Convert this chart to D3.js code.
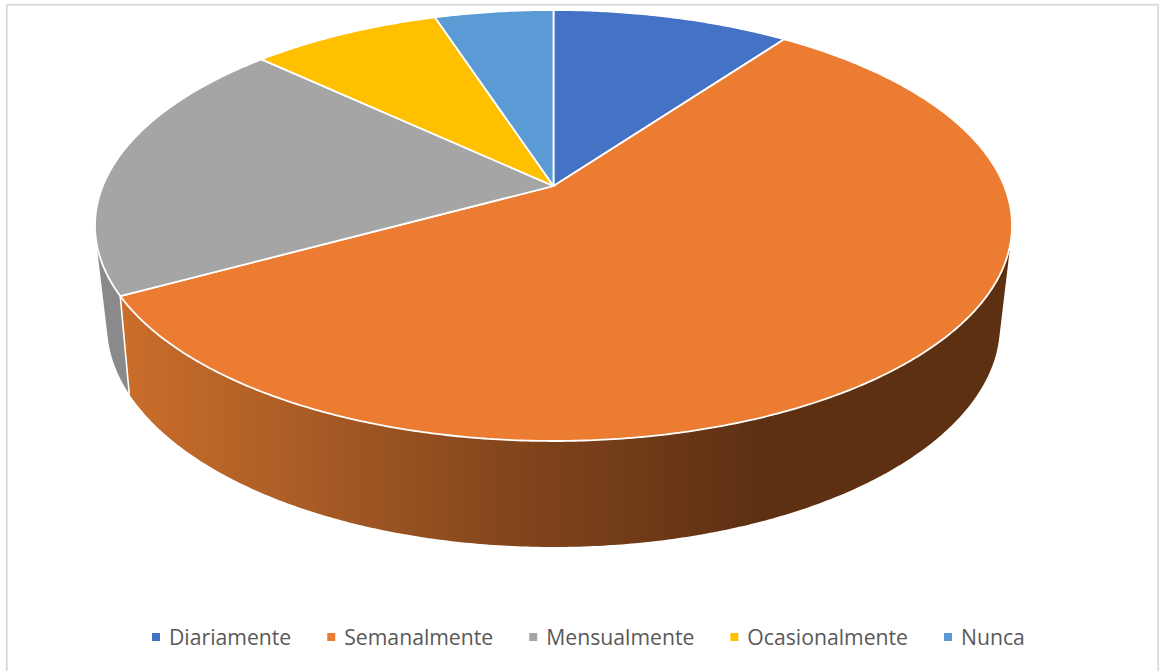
<!DOCTYPE html>
<html><head><meta charset="utf-8">
<script src="https://cdn.jsdelivr.net/npm/d3@7/dist/d3.min.js"></script>
<style>html,body{margin:0;padding:0;background:#fff}svg{display:block}</style>
</head><body><svg id="c" width="1159" height="671"></svg>
<script>
const categories = ["Diariamente","Semanalmente","Mensualmente","Ocasionalmente","Nunca"];
const values = [10,57,20,8,5];
const colors = ["#4472C4","#EB7C31","#A5A5A5","#FFC000","#5B9BD5"];
const wallGray = "#8A8A8A";

const svg = d3.select("#c");
svg.append("rect").attr("x",6.8).attr("y",4.8).attr("width",1151.4).attr("height",680)
  .attr("fill","#fff").attr("stroke","#d9d9d9").attr("stroke-width",1.8);

// perspective discs: unit circle -> ellipse
function disc(x0,x1,y0,y1,k){
  const sx=d3.scaleLinear([-1,1],[x0,x1]), sy=d3.scaleLinear([-1,1],[y0,y1]), q=Math.sqrt(1-k*k);
  const f=a=>{const x=Math.sin(a),y=-Math.cos(a),w=1+k*y;return [sx(q*x/w),sy((y+k)/w)];};
  f.apex=[sx(0),sy(k)];
  return f;
}
const top_ = disc(95,1012,10,441,-0.1833);
const low  = disc(107,1000,103,547,-0.2);

const arcs = d3.pie().sort(null).value(d=>d)(values);
const line = d3.line();
const samples=(a,b)=>{const n=Math.ceil((b-a)/(Math.PI/360));return d3.range(n+1).map(i=>a+(b-a)*i/n);};

const defs=svg.append("defs");
const grad=defs.append("linearGradient").attr("id","wallO").attr("gradientUnits","userSpaceOnUse")
  .attr("x1",120).attr("x2",760).attr("y1",0).attr("y2",0);
[[0,"#CB6E2B"],[0.3,"#A85B25"],[0.6,"#84461C"],[0.85,"#6C3817"],[1,"#5D3012"]].forEach(s=>grad.append("stop").attr("offset",s[0]).attr("stop-color",s[1]));

// walls: gray first then orange; every strip gets the same winding
function wallPath(a,b){
  const t=samples(a,b);let d="";
  for(let i=0;i<t.length-1;i++){
    const q=[top_(t[i]),top_(t[i+1]),low(t[i+1]),low(t[i])];
    if(d3.polygonArea(q)<0) q.reverse();
    d+=line(q)+"Z";
  }
  return d;
}
const g=svg.append("g");
g.append("path").attr("d",wallPath(arcs[2].startAngle,arcs[2].endAngle)).attr("fill",wallGray);
g.append("path").attr("d",wallPath(arcs[1].startAngle,arcs[1].endAngle)).attr("fill","url(#wallO)");
g.append("path").attr("d",line([top_(arcs[1].endAngle),low(arcs[1].endAngle)]))
  .attr("stroke","#fff").attr("stroke-width",1.6).attr("fill","none");

// top slices
svg.append("g").selectAll("path").data(arcs).join("path")
  .attr("d",d=>line([top_.apex,...samples(d.startAngle,d.endAngle).map(top_)])+"Z")
  .attr("fill",(d,i)=>colors[i]).attr("stroke","#fff").attr("stroke-width",1.8).attr("stroke-linejoin","round");

// legend
const leg=svg.append("g").attr("font-family","'Open Sans'").attr("font-size",21.2).attr("fill","#595959");
let lx=152;
categories.forEach((c,i)=>{
  leg.append("rect").attr("x",lx).attr("y",633).attr("width",8).attr("height",8).attr("fill",colors[i]);
  const t=leg.append("text").attr("x",lx+17).attr("y",645).text(c);
  lx+=17+t.node().getComputedTextLength()+36;
});
</script></body></html>
